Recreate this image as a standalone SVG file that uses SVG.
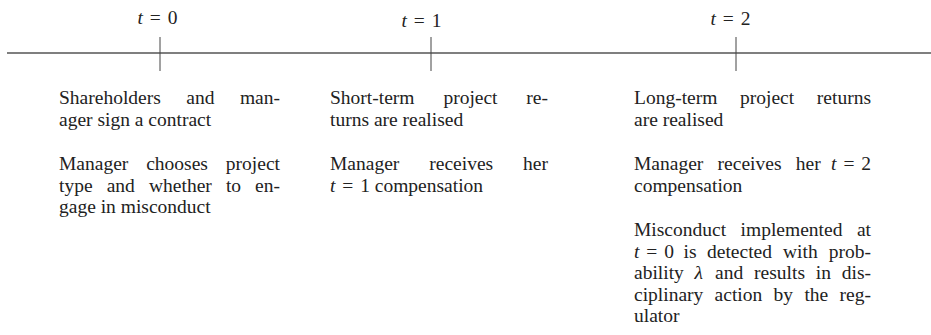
<svg xmlns="http://www.w3.org/2000/svg" width="931" height="335" viewBox="0 0 931 335">
  <style>
    text { font-family: "Liberation Serif", "Times New Roman", serif; font-size: 19.5px; fill: #222; }
    .lbl { text-anchor: middle; }
    .e { text-anchor: end; }
    .i { font-style: italic; }
    .axis { stroke: #555; stroke-width: 1.4; fill: none; }
    .tick { stroke: #444; stroke-width: 1; fill: none; }
  </style>
  <rect width="931" height="335" fill="#fff"/>
  <g id="connectors">
    <line class="axis" x1="7" y1="53" x2="931" y2="53"/>
    <line class="tick" x1="160" y1="37" x2="160" y2="71"/>
    <line class="tick" x1="431" y1="37" x2="431" y2="71"/>
    <line class="tick" x1="736" y1="37" x2="736" y2="71"/>
  </g>
  <g id="label-t0"><text class="lbl" x="157.5" y="24"><tspan class="i">t</tspan><tspan dx="2"> = </tspan><tspan dx="2">0</tspan></text></g>
  <g id="label-t1"><text class="lbl" x="421.5" y="27"><tspan class="i">t</tspan><tspan dx="2"> = </tspan><tspan dx="2">1</tspan></text></g>
  <g id="label-t2"><text class="lbl" x="730.5" y="25"><tspan class="i">t</tspan><tspan dx="2"> = </tspan><tspan dx="2">2</tspan></text></g>

  <g id="events-t0">
    <text x="59" y="104">Shareholders</text><text x="186.3" y="104">and</text><text class="e" x="280" y="104">man-</text>
    <text x="59" y="125.5">ager sign a contract</text>
    <text x="59" y="170">Manager</text><text x="146.2" y="170">chooses</text><text class="e" x="280" y="170">project</text>
    <text x="59" y="191.5">type</text><text x="106.7" y="191.5">and</text><text x="149" y="191.5">whether</text><text x="225.9" y="191.5">to</text><text class="e" x="280" y="191.5">en-</text>
    <text x="59" y="213">gage in misconduct</text>
  </g>

  <g id="events-t1">
    <text x="330" y="104">Short-term</text><text x="443.4" y="104">project</text><text class="e" x="548" y="104">re-</text>
    <text x="330" y="125.5">turns are realised</text>
    <text x="330" y="170">Manager</text><text x="429.3" y="170">receives</text><text class="e" x="548" y="170">her</text>
    <text x="330" y="191.5"><tspan class="i">t</tspan><tspan dx="2"> = </tspan><tspan dx="2">1 compensation</tspan></text>
  </g>

  <g id="events-t2">
    <text x="634" y="104">Long-term</text><text x="740" y="104">project</text><text class="e" x="871" y="104">returns</text>
    <text x="634" y="125.5">are realised</text>
    <text x="634" y="170">Manager</text><text x="717.6" y="170">receives</text><text x="795.8" y="170">her</text><text class="e" x="871" y="170"><tspan class="i">t</tspan><tspan dx="2"> = </tspan><tspan dx="2">2</tspan></text>
    <text x="634" y="191.5">compensation</text>
    <text x="634" y="236">Misconduct</text><text x="740.6" y="236">implemented</text><text class="e" x="871" y="236">at</text>
    <text x="634" y="257.5"><tspan class="i">t</tspan><tspan dx="2"> = </tspan><tspan dx="2">0</tspan></text><text x="683.5" y="257.5">is</text><text x="707" y="257.5">detected</text><text x="783" y="257.5">with</text><text class="e" x="871" y="257.5">prob-</text>
    <text x="634" y="279">ability</text><text class="i" x="694.6" y="279">λ</text><text x="715.1" y="279">and</text><text x="754.1" y="279">results</text><text x="815.8" y="279">in</text><text class="e" x="871" y="279">dis-</text>
    <text x="634" y="300.5">ciplinary</text><text x="714.6" y="300.5">action</text><text x="773.6" y="300.5">by</text><text x="804.4" y="300.5">the</text><text class="e" x="871" y="300.5">reg-</text>
    <text x="634" y="322">ulator</text>
  </g>
</svg>
